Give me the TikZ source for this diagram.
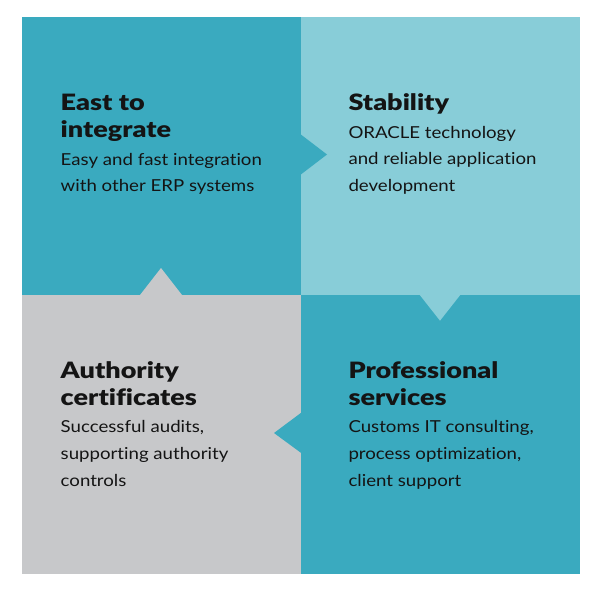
\documentclass[tikz,border=0pt]{standalone}
\usepackage{fontspec}
\setmainfont{Lato}[Ligatures={NoCommon}]
\newfontfamily\bodyfont{Lato}[FakeStretch=1.13, Ligatures={NoCommon}]
\newfontfamily\titlefont{Lato Black}[FakeStretch=1.2, Ligatures={NoCommon}]
\definecolor{tealdark}{RGB}{58,170,191}
\definecolor{teallight}{RGB}{136,205,216}
\definecolor{greyq}{RGB}{199,200,202}
\definecolor{ink}{RGB}{20,20,20}
\tikzset{
  title/.style={anchor=base west, inner sep=0pt, text=ink, font=\titlefont\fontsize{22.5}{26}\selectfont},
  body/.style={anchor=base west, inner sep=0pt, text=ink, font=\bodyfont\fontsize{16.5}{26}\selectfont},
}
\begin{document}
\begin{tikzpicture}[x=1pt,y=-1pt]
\path[use as bounding box, fill=white] (0,0) rectangle (597,594);
% quadrants
\fill[tealdark]  (21.5,16.7) rectangle (300.7,294.5);
\fill[teallight] (300.7,16.7) rectangle (580,294.5);
\fill[greyq]     (21.5,294.5) rectangle (300.7,574.3);
\fill[tealdark]  (300.7,294.5) rectangle (580,574.3);
% tabs
\fill[tealdark]  (300.2,134) -- (327,154.5) -- (300.2,175) -- cycle;
\fill[teallight] (419,294) -- (440,320.7) -- (461,294) -- cycle;
\fill[tealdark]  (301.2,412.7) -- (274,433) -- (301.2,453) -- cycle;
\fill[greyq]     (140,295) -- (161,268) -- (182,295) -- cycle;
% top left
\node[title] (tl1) at (60.5,110.7) {East to};
\node[title] (tl2) at (60.5,137.3) {integrate};
\node[body]  (tl3) at (60.5,165.8) {Easy and fast integration};
\node[body]  (tl4) at (60.5,191.5) {with other ERP systems};
% top right
\node[title] (tr1) at (348.3,110.7) {Stability};
\node[body]  (tr2) at (348.3,138.3) {ORACLE technology};
\node[body]  (tr3) at (348.3,164.9) {and reliable application};
\node[body]  (tr4) at (348.3,191.3) {development};
% bottom left
\node[title] (bl1) at (60.5,378.3) {Authority};
\node[title] (bl2) at (60.5,405) {certificates};
\node[body]  (bl3) at (60.5,432.7) {Successful audits,};
\node[body]  (bl4) at (60.5,459.7) {supporting authority};
\node[body]  (bl5) at (60.5,486.7) {controls};
% bottom right
\node[title] (br1) at (348.3,378.3) {Professional};
\node[title] (br2) at (348.3,405) {services};
\node[body]  (br3) at (348.3,432.7) {Customs IT consulting,};
\node[body]  (br4) at (348.3,459.7) {process optimization,};
\node[body]  (br5) at (348.3,486.7) {client support};
\end{tikzpicture}
\end{document}
